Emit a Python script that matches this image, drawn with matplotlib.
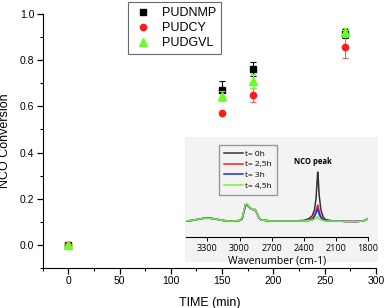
import matplotlib.pyplot as plt
import numpy as np

plt.rcParams['font.family'] = ['Liberation Sans', 'DejaVu Sans']

# main plot data
time = [0, 150, 180, 270]
nmp = [0.0, 0.67, 0.76, 0.915]
nmp_err = [0.005, 0.04, 0.03, 0.02]
cy = [0.0, 0.57, 0.65, 0.855]
cy_err = [0.005, 0.005, 0.03, 0.045]
gvl = [0.0, 0.645, 0.71, 0.92]
gvl_err = [0.005, 0.02, 0.03, 0.02]

# inset FTIR spectra
wavenumber = [3500, 3450, 3400, 3350, 3300, 3250, 3200, 3150, 3100, 3050, 3000,
              2975, 2960, 2945, 2930, 2910, 2890, 2870, 2855, 2840, 2820, 2800,
              2750, 2700, 2600, 2500, 2400, 2350, 2320, 2300, 2285, 2275, 2270,
              2265, 2255, 2240, 2220, 2200, 2150, 2100, 2000, 1900, 1850, 1820, 1800]
spec_0h = [0.165, 0.17, 0.18, 0.19, 0.195, 0.19, 0.18, 0.17, 0.165, 0.165, 0.17,
           0.19, 0.26, 0.33, 0.335, 0.31, 0.29, 0.28, 0.285, 0.25, 0.2, 0.175,
           0.17, 0.165, 0.165, 0.165, 0.17, 0.19, 0.22, 0.28, 0.40, 0.58, 0.67,
           0.60, 0.42, 0.28, 0.21, 0.18, 0.17, 0.165, 0.16, 0.16, 0.165, 0.175, 0.19]
spec_25h = [0.165, 0.17, 0.18, 0.19, 0.195, 0.19, 0.18, 0.17, 0.165, 0.165, 0.17,
            0.19, 0.26, 0.33, 0.335, 0.31, 0.29, 0.28, 0.285, 0.25, 0.2, 0.175,
            0.17, 0.165, 0.165, 0.165, 0.17, 0.18, 0.19, 0.22, 0.27, 0.31, 0.33,
            0.31, 0.26, 0.21, 0.18, 0.17, 0.165, 0.165, 0.16, 0.16, 0.165, 0.175, 0.19]
spec_3h = [0.165, 0.17, 0.18, 0.19, 0.2, 0.19, 0.18, 0.17, 0.165, 0.165, 0.17,
           0.19, 0.26, 0.33, 0.33, 0.31, 0.29, 0.28, 0.28, 0.25, 0.2, 0.175,
           0.17, 0.165, 0.165, 0.165, 0.165, 0.17, 0.18, 0.21, 0.25, 0.28, 0.29,
           0.27, 0.23, 0.20, 0.18, 0.17, 0.165, 0.165, 0.16, 0.16, 0.165, 0.175, 0.19]
spec_45h = [0.165, 0.17, 0.18, 0.19, 0.195, 0.19, 0.18, 0.17, 0.165, 0.165, 0.17,
            0.2, 0.27, 0.34, 0.34, 0.315, 0.29, 0.28, 0.285, 0.25, 0.2, 0.175,
            0.17, 0.165, 0.165, 0.165, 0.165, 0.17, 0.175, 0.18, 0.19, 0.205, 0.21,
            0.20, 0.185, 0.175, 0.17, 0.165, 0.165, 0.165, 0.16, 0.16, 0.165, 0.175, 0.19]

fig = plt.figure(figsize=(3.86, 3.08), dpi=100)
ax = fig.add_axes([42.6 / 386, 1 - 268 / 308, (376 - 42.6) / 386, (268 - 14) / 308])

e1 = ax.errorbar(time, nmp, yerr=nmp_err, fmt='s', color='black', ms=4.2,
                 capsize=2.5, elinewidth=0.8, capthick=0.8, zorder=3)
e2 = ax.errorbar(time, cy, yerr=cy_err, fmt='o', color='#ff1a1a', ecolor='#f06060', ms=4.5,
                 capsize=2.5, elinewidth=0.8, capthick=0.8, zorder=3)
e3 = ax.errorbar(time, gvl, yerr=gvl_err, fmt='^', color='#66ff22', ms=5.2,
                 capsize=2.5, elinewidth=0.8, capthick=0.8, zorder=4)

ax.set_xlim(-25, 300)
ax.set_ylim(-0.1, 1.0)
ax.set_xticks([0, 50, 100, 150, 200, 250, 300])
ax.set_xticks(np.arange(-25, 300, 25), minor=True)
ax.set_yticks([0.0, 0.2, 0.4, 0.6, 0.8, 1.0])
ax.set_yticks(np.arange(-0.1, 1.0, 0.1), minor=True)
ax.spines[['top', 'right']].set_visible(False)
ax.tick_params(which='major', direction='out', length=4, width=0.9, labelsize=7.5, pad=2)
ax.tick_params(which='minor', direction='out', length=2.5, width=0.8)
ax.set_xlabel('TIME (min)', fontsize=9, labelpad=8)
ax.set_ylabel('NCO Conversion', fontsize=9, labelpad=6)

# legend shows markers only
leg = ax.legend([e1[0], e2[0], e3[0]], ['PUDNMP', 'PUDCY', 'PUDGVL'],
                loc='upper left', bbox_to_anchor=(128 / 386, 1 - 2 / 308),
                bbox_transform=fig.transFigure, fontsize=9, frameon=True,
                fancybox=False, edgecolor='#444444', handletextpad=0.7,
                labelspacing=0.25, borderpad=0.4, handlelength=1.6, borderaxespad=0)
leg.get_frame().set_linewidth(0.8)

# grey background of the inset picture
bg = fig.add_axes([185 / 386, 1 - 262 / 308, 193 / 386, 125 / 308])
bg.set_facecolor('#f3f3f3')
bg.set_xticks([])
bg.set_yticks([])
for s in bg.spines.values():
    s.set_visible(False)

ins = fig.add_axes([186 / 386, 1 - 237 / 308, 182 / 386, 97 / 308])
ins.set_facecolor('none')
ins.plot(wavenumber, spec_0h, color='#333333', lw=1.1, label='t= 0h')
ins.plot(wavenumber, spec_25h, color='#ee2233', lw=1.1, label='t= 2,5h')
ins.plot(wavenumber, spec_3h, color='#2233cc', lw=1.1, label='t= 3h')
ins.plot(wavenumber, spec_45h, color='#77ee44', lw=1.1, label='t= 4,5h')
ins.set_xlim(3500, 1800)
ins.set_ylim(0, 1)
ins.set_xticks([3300, 3000, 2700, 2400, 2100, 1800])
ins.set_xticks(np.arange(3450, 1800, 150), minor=True)
ins.set_yticks([])
ins.spines[['top', 'right', 'left']].set_visible(False)
ins.tick_params(which='major', direction='out', length=3, width=0.7, labelsize=6.5, pad=2)
ins.tick_params(which='minor', direction='out', length=1.5, width=0.6)
ins.set_xlabel('Wavenumber (cm-1)', fontsize=7.5, labelpad=2, family=['Open Sans', 'DejaVu Sans'])
for lab in ins.get_xticklabels():
    lab.set_family(['Open Sans', 'DejaVu Sans'])
ins.text(2312, 0.78, 'NCO peak', fontsize=5.5, fontweight='bold', ha='center', va='center',
         family=['Open Sans', 'DejaVu Sans'])
ileg = ins.legend(loc='upper left', bbox_to_anchor=(0.18, 0.95),
                  frameon=True, fancybox=False, edgecolor='#999999', facecolor='#f3f3f3',
                  framealpha=1, handlelength=2.3, handletextpad=0.3, labelspacing=0.35,
                  borderpad=0.6, borderaxespad=0,
                  prop={'family': ['Open Sans', 'DejaVu Sans'], 'size': 6})

plt.savefig('out.png', dpi=100)
